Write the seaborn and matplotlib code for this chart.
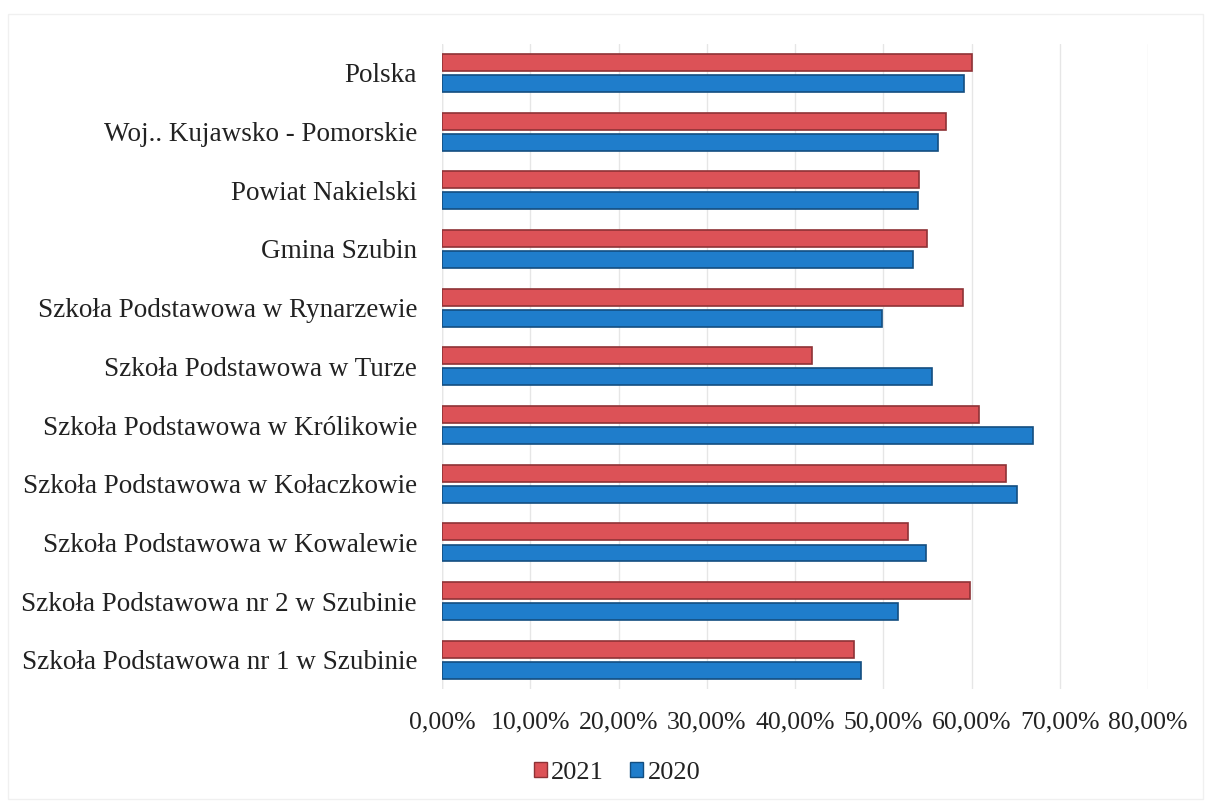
import matplotlib
matplotlib.use("Agg")
import matplotlib.pyplot as plt
import matplotlib.patches as mpatches
from matplotlib.ticker import FuncFormatter
import seaborn as sns
import pandas as pd

categories = [
    "Polska",
    "Woj.. Kujawsko - Pomorskie",
    "Powiat Nakielski",
    "Gmina Szubin",
    "Szkoła Podstawowa w Rynarzewie",
    "Szkoła Podstawowa w Turze",
    "Szkoła Podstawowa w Królikowie",
    "Szkoła Podstawowa w Kołaczkowie",
    "Szkoła Podstawowa w Kowalewie",
    "Szkoła Podstawowa nr 2 w Szubinie",
    "Szkoła Podstawowa nr 1 w Szubinie",
]
values_2021 = [60.1, 57.1, 54.0, 54.9, 59.0, 41.9, 60.9, 63.9, 52.8, 59.8, 46.7]
values_2020 = [59.1, 56.2, 53.9, 53.4, 49.9, 55.5, 67.0, 65.2, 54.8, 51.7, 47.5]
series = ["2021", "2020"]
x_ticks = [0, 10, 20, 30, 40, 50, 60, 70, 80]

df = pd.DataFrame({
    "Kategoria": categories * 2,
    "Rok": ["2021"] * len(categories) + ["2020"] * len(categories),
    "Wartość": values_2021 + values_2020,
})

sns.set_theme(style="white")
plt.rcParams["font.family"] = ["Liberation Serif", "DejaVu Serif"]

red = "#DC5257"
blue = "#1F7DCB"
red_edge = "#8E3236"
blue_edge = "#134E80"

fig = plt.figure(figsize=(12.11, 8.07), dpi=100)
ax = fig.add_axes([0.365, 0.146, 0.583, 0.800])

sns.barplot(data=df, y="Kategoria", x="Wartość", hue="Rok", hue_order=series,
            order=categories, palette={"2021": red, "2020": blue},
            orient="h", width=0.72, gap=0.2, ax=ax, legend=False,
            linewidth=1.0, edgecolor="none", saturation=1)

edges = {"2021": red_edge, "2020": blue_edge}
for cont, s in zip(ax.containers, series):
    for bar in cont:
        bar.set_edgecolor(edges[s])
        bar.set_linewidth(1.2)

ax.set_xlim(0, 80)
ax.set_ylim(len(categories) - 0.5, -0.5)
ax.set_xticks(x_ticks)
ax.xaxis.set_major_formatter(FuncFormatter(lambda v, p: f"{v:.2f}".replace(".", ",") + "%"))
ax.grid(axis="x", color="#e6e6e6", linewidth=1.0)
ax.set_axisbelow(True)
for sp in ax.spines.values():
    sp.set_visible(False)
ax.axvline(0, color="#e0e0e0", linewidth=1.0, zorder=0)
ax.set_xlabel("")
ax.set_ylabel("")
ax.tick_params(axis="y", length=0, pad=18, labelsize=19.5, labelcolor="#222222")
ax.tick_params(axis="x", length=0, pad=16, labelsize=18.5, labelcolor="#222222")

handles = [mpatches.Patch(facecolor=red, edgecolor=red_edge, label="2021"),
           mpatches.Patch(facecolor=blue, edgecolor=blue_edge, label="2020")]
fig.legend(handles=handles, loc="center", bbox_to_anchor=(617 / 1211, 1 - 773 / 807),
           ncol=2, frameon=False, fontsize=19, handlelength=0.5, handleheight=0.5,
           handletextpad=0.15, columnspacing=1.0, labelcolor="#222222")

fig.patches.append(mpatches.Rectangle((8 / 1211, 8 / 807), 1195 / 1211, 785 / 807,
                                      transform=fig.transFigure, fill=False,
                                      edgecolor="#f0f0f0", linewidth=1.0))

fig.savefig("out.png", dpi=100)
